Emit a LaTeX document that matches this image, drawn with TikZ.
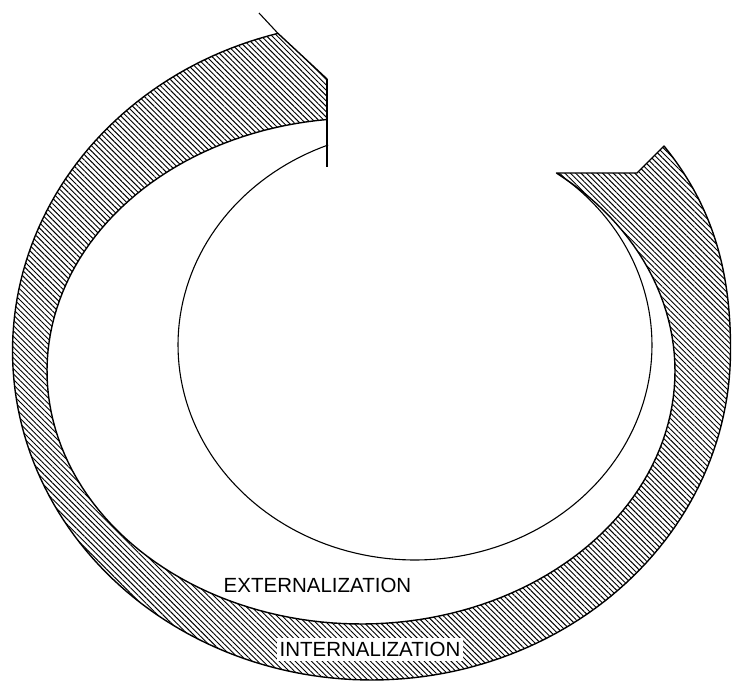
\documentclass[tikz,border=0pt]{standalone}
\usepackage{fontspec}
\setmainfont{Liberation Sans}
\usetikzlibrary{patterns.meta}
\tikzset{
  band/.style={pattern={Lines[angle=-45,distance=3.8pt,line width=0.95pt]}},
  edgeline/.style={line width=1.4pt, line join=round},
  thinline/.style={line width=1.1pt},
  lab/.style={font=\fontsize{20.5}{22}\selectfont, inner sep=0pt},
}
\begin{document}
\begin{tikzpicture}[x=1pt,y=-1pt]
\useasboundingbox (0,0) rectangle (732,683);
% hatched spiral band with arrowhead
\path[band, draw, edgeline]
  (278,33.4)
  -- plot[domain=254.9:0, samples=160, variable=\t] ({371.5+359*cos(\t)},{351+329*sin(\t)})
  .. controls (731,270) and (712,205) .. (664,146)
  -- (637,173) -- (556.5,173)
  -- plot[domain=-51.5:263.8, samples=160, variable=\t] ({361+314*cos(\t)},{371+253*sin(\t)})
  -- (327,79) -- cycle;
% inner thin circle
\draw[thinline] plot[domain=248.5:-53, samples=160, variable=\t] ({415+237*cos(\t)},{345+215*sin(\t)});
% tail lines
\draw[edgeline] (327,79) -- (327,167);
\draw[thinline] (259,13) -- (278,33.4);
% labels
\node[lab] (ext) at (317.5,585) {EXTERNALIZATION};
\node[lab, fill=white, minimum width=186pt, minimum height=23pt] (int) at (370,649.5) {INTERNALIZATION};
\end{tikzpicture}
\end{document}
